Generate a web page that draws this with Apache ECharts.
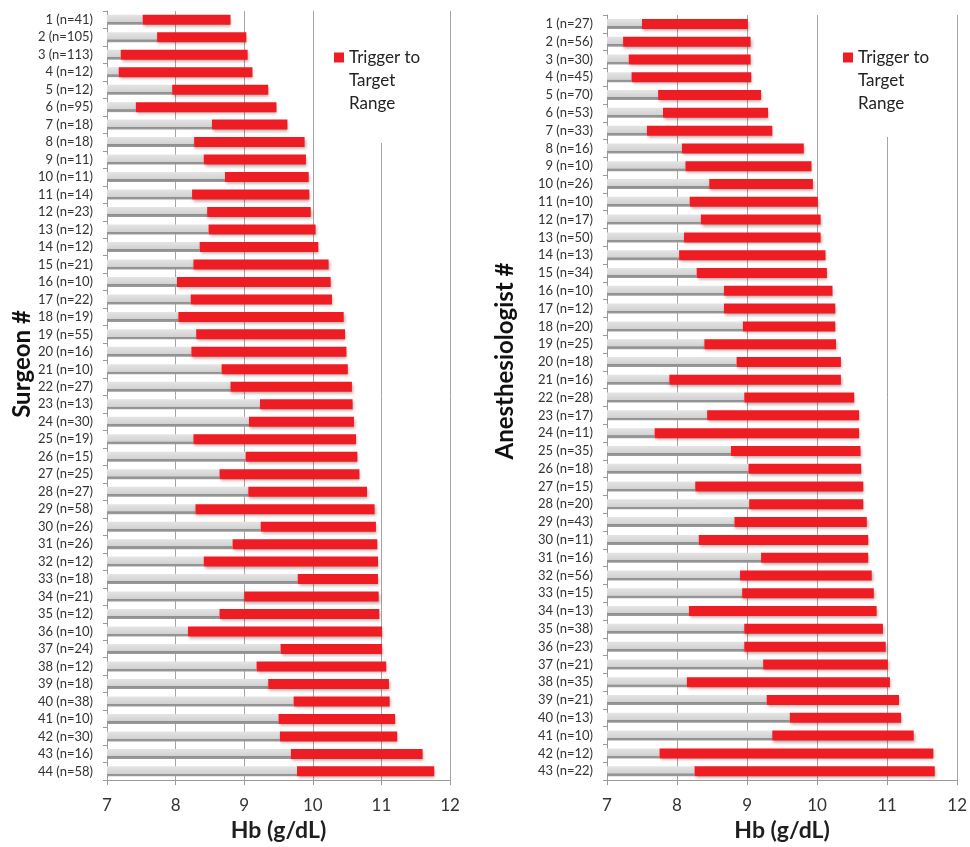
<!DOCTYPE html>
<html>
<head>
<meta charset="utf-8">
<title>Trigger to Target Range</title>
<script src="https://cdn.jsdelivr.net/npm/echarts@6/dist/echarts.min.js"></script>
<style>
    html, body { margin: 0; padding: 0; background: #fff; }
    #chart { width: 970px; height: 847px; }
</style>
</head>
<body>
<div id="chart"></div>
<script>
    // Surgeons (44)
    var surgeonN = [41, 105, 113, 12, 12, 95, 18, 18, 11, 11, 14, 23, 12, 12, 21, 10, 22, 19, 55, 16, 10, 27,
        13, 30, 19, 15, 25, 27, 58, 26, 26, 12, 18, 21, 12, 10, 24, 12, 18, 38, 10, 30, 16, 58];
    var surgeonTrigger = [7.52, 7.73, 7.20, 7.17, 7.95, 7.42, 8.53, 8.27, 8.41, 8.72, 8.24, 8.46, 8.48, 8.35, 8.26,
        8.02, 8.22, 8.04, 8.30, 8.23, 8.67, 8.80, 9.23, 9.07, 8.26, 9.02, 8.64, 9.06, 8.29, 9.24, 8.83, 8.41,
        9.78, 9.00, 8.64, 8.18, 9.53, 9.18, 9.35, 9.72, 9.50, 9.52, 9.68, 9.77];
    var surgeonTarget = [8.80, 9.03, 9.05, 9.12, 9.35, 9.47, 9.63, 9.88, 9.90, 9.94, 9.95, 9.97, 10.04, 10.08, 10.23,
        10.26, 10.28, 10.45, 10.47, 10.49, 10.51, 10.57, 10.58, 10.60, 10.63, 10.65, 10.68, 10.79, 10.90, 10.92,
        10.94, 10.95, 10.95, 10.96, 10.97, 11.01, 11.01, 11.07, 11.11, 11.12, 11.20, 11.23, 11.60, 11.77];

    // Anesthesiologists (43)
    var anesN = [27, 56, 30, 45, 70, 53, 33, 16, 10, 26, 10, 17, 50, 13, 34, 10, 12, 20, 25, 18, 16, 28, 17, 11,
        35, 18, 15, 20, 43, 11, 16, 56, 15, 13, 38, 23, 21, 35, 21, 13, 10, 12, 22];
    var anesTrigger = [7.50, 7.23, 7.31, 7.35, 7.73, 7.80, 7.57, 8.07, 8.12, 8.46, 8.18, 8.34, 8.10, 8.03, 8.28,
        8.67, 8.67, 8.94, 8.39, 8.85, 7.89, 8.96, 8.43, 7.68, 8.77, 9.02, 8.26, 9.03, 8.82, 8.31, 9.20, 8.90,
        8.93, 8.17, 8.96, 8.96, 9.23, 8.14, 9.28, 9.61, 9.36, 7.75, 8.25];
    var anesTarget = [9.01, 9.05, 9.05, 9.06, 9.20, 9.30, 9.36, 9.81, 9.92, 9.94, 10.01, 10.05, 10.05, 10.12, 10.14,
        10.22, 10.26, 10.26, 10.27, 10.34, 10.34, 10.53, 10.60, 10.60, 10.62, 10.63, 10.66, 10.66, 10.71, 10.73,
        10.73, 10.78, 10.81, 10.85, 10.94, 10.98, 11.01, 11.04, 11.17, 11.20, 11.38, 11.66, 11.68];

    var xTicks = [7, 12, 1]; // min, max, step
    var rangeName = 'Trigger to Target Range';

    var FONT = 'Lato, "Open Sans", sans-serif';

    function makeLabels(n) {
        return n.map(function (v, i) { return (i + 1) + ' (n=' + v + ')'; });
    }
    function diff(a, b) {
        return b.map(function (v, i) { return +(v - a[i]).toFixed(2); });
    }

    var grayStyle = {
        color: new echarts.graphic.LinearGradient(0, 0, 0, 1, [
            { offset: 0, color: '#e4e4e4' },
            { offset: 0.72, color: '#d2d2d2' },
            { offset: 0.74, color: '#8e8e8e' },
            { offset: 1, color: '#9c9c9c' }
        ])
    };
    var redStyle = {
        color: '#ee1c23',
        shadowColor: 'rgba(60,0,0,0.35)',
        shadowBlur: 3,
        shadowOffsetY: 2,
        shadowOffsetX: 1
    };

    function xAxisFor(idx) {
        return {
            type: 'value', gridIndex: idx,
            min: xTicks[0], max: xTicks[1], interval: xTicks[2],
            name: 'Hb (g/dL)', nameLocation: 'middle', nameGap: 32,
            nameTextStyle: { fontFamily: FONT, fontWeight: 'bold', fontSize: 23, color: '#1e1e1e' },
            axisLine: { show: true, lineStyle: { color: '#9a9a9a' } },
            axisTick: { show: true, length: 5, lineStyle: { color: '#9a9a9a' } },
            axisLabel: { fontFamily: FONT, fontSize: 17, color: '#333', margin: 17 },
            splitLine: { show: true, lineStyle: { color: '#a4a4a4', width: 1 } }
        };
    }
    function yAxisFor(idx, labels) {
        return {
            type: 'category', gridIndex: idx, inverse: true, data: labels,
            axisLine: { show: true, lineStyle: { color: '#9a9a9a' } },
            axisTick: { show: true, length: 4, lineStyle: { color: '#9a9a9a' } },
            axisLabel: { interval: 0, fontFamily: FONT, fontSize: 13, color: '#333', margin: 14 }
        };
    }
    // two blank lines in front keep the icon level with the first line
    function legendFor(left, padBottom) {
        return {
            data: [rangeName], left: left, top: 0, orient: 'vertical',
            backgroundColor: '#fff', padding: [0, 14, padBottom, 6],
            icon: 'rect', itemWidth: 10, itemHeight: 10,
            formatter: function () { return '\n\nTrigger to\nTarget\nRange'; },
            textStyle: { fontFamily: FONT, fontSize: 17, lineHeight: 23, color: '#222' }
        };
    }

    var option = {
        animation: false,
        backgroundColor: '#fff',
        grid: [
            { left: 107, top: 11, width: 343, height: 780 },
            { left: 607, top: 15, width: 352, height: 776 }
        ],
        xAxis: [xAxisFor(0), xAxisFor(1)],
        yAxis: [yAxisFor(0, makeLabels(surgeonN)), yAxisFor(1, makeLabels(anesN))],
        legend: [legendFor(328, 28), legendFor(837, 22)],
        graphic: [
            { type: 'text', x: 22, y: 364, rotation: Math.PI / 2,
              style: { text: 'Surgeon #', font: 'bold 24px ' + FONT, fill: '#111', align: 'center', verticalAlign: 'middle' } },
            { type: 'text', x: 505, y: 361, rotation: Math.PI / 2,
              style: { text: 'Anesthesiologist #', font: 'bold 24px ' + FONT, fill: '#111', align: 'center', verticalAlign: 'middle' } }
        ],
        series: [
            { name: 'Trigger', type: 'bar', xAxisIndex: 0, yAxisIndex: 0, stack: 's', barWidth: 10,
              itemStyle: grayStyle, data: surgeonTrigger, silent: true },
            { name: rangeName, type: 'bar', xAxisIndex: 0, yAxisIndex: 0, stack: 's', barWidth: 10,
              itemStyle: redStyle, data: diff(surgeonTrigger, surgeonTarget) },
            { name: 'Trigger', type: 'bar', xAxisIndex: 1, yAxisIndex: 1, stack: 'a', barWidth: 10,
              itemStyle: grayStyle, data: anesTrigger, silent: true },
            { name: rangeName, type: 'bar', xAxisIndex: 1, yAxisIndex: 1, stack: 'a', barWidth: 10,
              itemStyle: redStyle, data: diff(anesTrigger, anesTarget) }
        ]
    };

    var myChart = echarts.init(document.getElementById('chart'));
    myChart.setOption(option);
</script>
</body>
</html>
